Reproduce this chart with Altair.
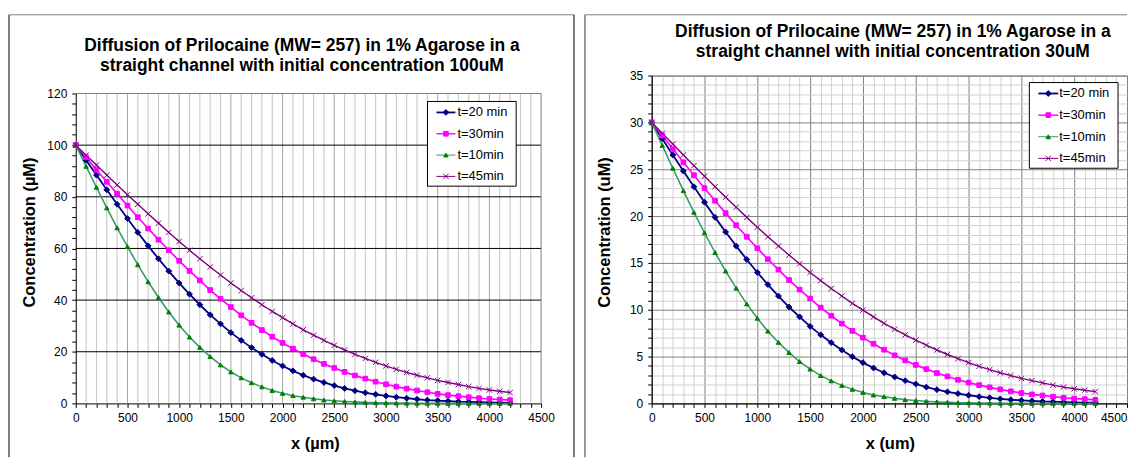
import altair as alt
import pandas as pd

FONT = "Liberation Sans"

# ---------------- data ----------------
x_um = list(range(0, 4201, 100))
series_names = ["t=20 min", "t=30min", "t=10min", "t=45min"]

c100_t20 = [100, 94.2, 88.4, 82.7, 77.1, 71.6, 66.2, 61.0, 56.0, 51.2, 46.6, 42.3, 38.2, 34.3, 30.8,
            27.4, 24.4, 21.6, 19.0, 16.6, 14.5, 12.6, 10.9, 9.4, 8.1, 6.9, 5.8, 4.9, 4.1, 3.5, 2.9,
            2.4, 2.0, 1.6, 1.3, 1.1, 0.9, 0.7, 0.6, 0.45, 0.35, 0.28, 0.22]
c100_t30 = [100, 95.3, 90.5, 85.8, 81.2, 76.6, 72.1, 67.7, 63.4, 59.3, 55.2, 51.3, 47.6, 43.9, 40.5,
            37.3, 34.1, 31.2, 28.4, 25.8, 23.4, 21.2, 19.1, 17.1, 15.3, 13.7, 12.2, 10.8, 9.6, 8.4,
            7.4, 6.5, 5.7, 5.0, 4.3, 3.7, 3.2, 2.8, 2.4, 2.0, 1.7, 1.5, 1.25]
c100_t10 = [100, 91.8, 83.7, 75.7, 68.0, 60.7, 53.7, 47.1, 41.0, 35.4, 30.3, 25.7, 21.7, 18.1, 14.9,
            12.2, 9.9, 8.0, 6.4, 5.0, 3.9, 3.0, 2.4, 1.8, 1.3, 1.0, 0.74, 0.54, 0.39, 0.28, 0.20,
            0.14, 0.10, 0.07, 0.05, 0.03, 0.02, 0.01, 0.01, 0.0, 0.0, 0.0, 0.0]
c100_t45 = [100, 96.1, 92.3, 88.4, 84.6, 80.8, 77.1, 73.4, 69.8, 66.2, 62.7, 59.3, 56.0, 52.8, 49.7,
            46.6, 43.7, 40.9, 38.2, 35.6, 33.2, 30.8, 28.5, 26.4, 24.4, 22.5, 20.7, 19.0, 17.4, 15.9,
            14.5, 13.2, 12.0, 10.9, 9.9, 8.9, 8.1, 7.3, 6.5, 5.8, 5.2, 4.7, 4.2]

c30_t20 = [30, 28.26, 26.52, 24.81, 23.13, 21.48, 19.86, 18.3, 16.8, 15.36, 13.98, 12.69, 11.46, 10.29,
           9.24, 8.22, 7.32, 6.48, 5.7, 4.98, 4.35, 3.78, 3.27, 2.82, 2.43, 2.07, 1.74, 1.47, 1.23,
           1.05, 0.87, 0.72, 0.6, 0.48, 0.39, 0.33, 0.27, 0.21, 0.18, 0.14, 0.11, 0.08, 0.07]
c30_t30 = [30, 28.59, 27.15, 25.74, 24.36, 22.98, 21.63, 20.31, 19.02, 17.79, 16.56, 15.39, 14.28, 13.17,
           12.15, 11.19, 10.23, 9.36, 8.52, 7.74, 7.02, 6.36, 5.73, 5.13, 4.59, 4.11, 3.66, 3.24, 2.88,
           2.52, 2.22, 1.95, 1.71, 1.5, 1.29, 1.11, 0.96, 0.84, 0.72, 0.6, 0.51, 0.45, 0.38]
c30_t10 = [30, 27.54, 25.11, 22.71, 20.4, 18.21, 16.11, 14.13, 12.3, 10.62, 9.09, 7.71, 6.51, 5.43,
           4.47, 3.66, 2.97, 2.4, 1.92, 1.5, 1.17, 0.9, 0.72, 0.54, 0.39, 0.3, 0.22, 0.16, 0.12, 0.08,
           0.06, 0.04, 0.03, 0.02, 0.015, 0.01, 0.006, 0.003, 0.003, 0.0, 0.0, 0.0, 0.0]
c30_t45 = [30, 28.83, 27.69, 26.52, 25.38, 24.24, 23.13, 22.02, 20.94, 19.86, 18.81, 17.79, 16.8, 15.84,
           14.91, 13.98, 13.11, 12.27, 11.46, 10.68, 9.96, 9.24, 8.55, 7.92, 7.32, 6.75, 6.21, 5.7,
           5.22, 4.77, 4.35, 3.96, 3.6, 3.27, 2.97, 2.67, 2.43, 2.19, 1.95, 1.74, 1.56, 1.41, 1.26]

title_left = ["Diffusion of Prilocaine (MW= 257) in 1% Agarose in a",
              "straight channel with initial concentration 100uM"]
title_right = ["Diffusion of Prilocaine (MW= 257) in 1% Agarose in a",
               "straight channel with initial concentration 30uM"]

x_ticks = list(range(0, 4501, 100))

# ---------------- styling ----------------
line_colors = ["#000080", "#FF00FF", "#339966", "#800080"]
marker_colors = ["#000080", "#FF00FF", "#008000", "#800080"]
marker_shapes = ["diamond", "square", "triangle-up", "M-1,-1L1,1M-1,1L1,-1"]
marker_sizes = [34, 22, 20, 30]
line_widths = [1.8, 1.4, 1.0, 1.0]
PANEL_H = 329
BORDER_TOP, BORDER_BOT = -61, 383


def long_frame(cols):
    rows = []
    for name, vals in zip(series_names, cols):
        for xv, cv in zip(x_um, vals):
            rows.append({"x": xv, "c": cv, "series": name})
    return pd.DataFrame(rows)


def one_row():
    return alt.Chart(pd.DataFrame({"k": [0]}))


def legend_layers(box, line_x, mark_x, text_x, row_y0, row_step):
    out = [one_row().mark_rect(fill="white", stroke="black", strokeWidth=1).encode(
        x=alt.value(box[0]), x2=alt.value(box[1]), y=alt.value(box[2]), y2=alt.value(box[3]))]
    for i, name in enumerate(series_names):
        yy = row_y0 + i * row_step
        out.append(one_row().mark_rule(color=line_colors[i], strokeWidth=line_widths[i]).encode(
            x=alt.value(line_x[0]), x2=alt.value(line_x[1]), y=alt.value(yy)))
        out.append(one_row().mark_point(
            filled=True, opacity=1, strokeWidth=1, fill=marker_colors[i], stroke=marker_colors[i],
            shape=marker_shapes[i], size=marker_sizes[i]
        ).encode(x=alt.value(mark_x), y=alt.value(yy)))
        out.append(one_row().mark_text(
            font=FONT, fontSize=13, color="black", align="left", baseline="middle"
        ).encode(x=alt.value(text_x), y=alt.value(yy), text=alt.value(name)))
    return out


def panel(cols, width, ymax, ystep, ymajor, yrange_top, ytitle, xtitle, ytitle_xy, xtitle_xy,
          titles, title_xy, legend, border_x, border_right, border_colors, axis_grid, xgrid, ygrid):
    df = long_frame(cols)

    x_axis = dict(
        values=x_ticks, tickCount=len(x_ticks), format="d",
        labelExpr="datum.value % 500 === 0 ? datum.label : ''",
        labelAlign={"condition": {"test": "datum.value === 4500",
                                  "value": "center" if border_right else "right"},
                    "value": "center"},
        title=xtitle, titleX=xtitle_xy[0], titleY=xtitle_xy[1],
        titleAlign="center", titleBaseline="middle", grid=axis_grid,
    )
    y_vals = list(range(0, ymax + 1, ystep))
    y_axis = dict(
        values=y_vals, tickCount=len(y_vals), format="d",
        labelExpr="datum.value % " + str(ymajor) + " === 0 ? datum.label : ''",
        title=ytitle, titleX=ytitle_xy[0], titleY=ytitle_xy[1], titleAngle=270,
        titleAlign="center", titleBaseline="middle", grid=axis_grid,
    )
    if axis_grid:
        x_axis["gridColor"] = {"condition": {"test": "datum.value % 500 === 0", "value": xgrid[0]},
                               "value": xgrid[1]}
        y_axis["gridColor"] = {"condition": {"test": "datum.value % " + str(ymajor) + " === 0",
                                             "value": ygrid[0]}, "value": ygrid[1]}

    x_enc = alt.X("x:Q", scale=alt.Scale(domain=[0, 4500], nice=False, zero=False),
                  axis=alt.Axis(**x_axis))
    y_enc = alt.Y("c:Q", scale=alt.Scale(domain=[0, ymax], nice=False, zero=True,
                                         range=[PANEL_H, yrange_top]),
                  axis=alt.Axis(**y_axis))

    layers = []
    # chart-area border (top, left, optionally right)
    top_c, side_c, side_w = border_colors
    layers.append(one_row().mark_rule(color=top_c, strokeWidth=1).encode(
        x=alt.value(border_x[0]), x2=alt.value(border_x[1]), y=alt.value(BORDER_TOP)))
    layers.append(one_row().mark_rule(color=side_c, strokeWidth=side_w).encode(
        x=alt.value(border_x[0]), y=alt.value(BORDER_TOP), y2=alt.value(BORDER_BOT)))
    if border_right:
        layers.append(one_row().mark_rule(color=side_c, strokeWidth=side_w).encode(
            x=alt.value(border_x[1]), y=alt.value(BORDER_TOP), y2=alt.value(BORDER_BOT)))

    if not axis_grid:
        vminor = pd.DataFrame({"x": [v for v in x_ticks if v % 500 != 0]})
        vmajor = pd.DataFrame({"x": [v for v in x_ticks if v % 500 == 0 and 0 < v < 4500]})
        hmajor = pd.DataFrame({"c": [v for v in y_vals if v % ymajor == 0 and 0 < v < ymax]})
        layers.append(alt.Chart(vminor).mark_rule(color=xgrid[1], strokeWidth=1).encode(
            x=x_enc, y=alt.datum(0), y2=alt.datum(ymax)))
        layers.append(alt.Chart(vmajor).mark_rule(color=xgrid[0], strokeWidth=1).encode(
            x=x_enc, y=alt.datum(0), y2=alt.datum(ymax)))
        layers.append(alt.Chart(hmajor).mark_rule(color=ygrid[0], strokeWidth=1).encode(
            y=y_enc, x=alt.datum(0), x2=alt.datum(4500)))
        # plot-area frame: top and right edges
        layers.append(alt.Chart(pd.DataFrame({"c": [ymax]})).mark_rule(color="#808080").encode(
            y=y_enc, x=alt.datum(0), x2=alt.datum(4500)))
        layers.append(alt.Chart(pd.DataFrame({"x": [4500]})).mark_rule(color="#808080").encode(
            x=x_enc, y=alt.datum(0), y2=alt.datum(ymax)))

    layers.append(alt.Chart(df).mark_line().encode(
        x=x_enc, y=y_enc,
        color=alt.Color("series:N", scale=alt.Scale(domain=series_names, range=line_colors),
                        legend=None),
        strokeWidth=alt.StrokeWidth("series:N",
                                    scale=alt.Scale(domain=series_names, range=line_widths),
                                    legend=None),
        order="x:Q",
    ))

    for name, col, shp, sz in zip(series_names, marker_colors, marker_shapes, marker_sizes):
        layers.append(
            alt.Chart(df).transform_filter(alt.datum.series == name).mark_point(
                filled=True, opacity=1, strokeWidth=1, fill=col, stroke=col, shape=shp, size=sz
            ).encode(x=x_enc, y=y_enc)
        )

    layers.extend(legend_layers(**legend))

    for txt, yy in zip(titles, title_xy[1:]):
        layers.append(
            one_row().mark_text(
                font=FONT, fontSize=17.5, fontWeight="bold", color="black",
                align="center", baseline="middle"
            ).encode(x=alt.value(title_xy[0]), y=alt.value(yy), text=alt.value(txt))
        )

    return alt.layer(*layers).resolve_scale(color="independent").properties(
        width=width, height=PANEL_H)


left = panel(
    [c100_t20, c100_t30, c100_t10, c100_t45],
    width=467, ymax=120, ystep=4, ymajor=20, yrange_top=18,
    ytitle="Concentration (µM)", xtitle="x (µm)",
    ytitle_xy=(-46, 157), xtitle_xy=(240, 40),
    titles=title_left, title_xy=(227, -30, -10),
    legend=dict(box=(353, 442, 26, 111), line_x=(362, 381), mark_x=371.5, text_x=383,
                row_y0=37, row_step=21.4),
    border_x=(-67, 500), border_right=True, border_colors=("#7f7f7f", "#000000", 1),
    axis_grid=False, xgrid=("#a6a6a6", "#c4c4c4"), ygrid=("#000000", "transparent"),
).properties(view=alt.ViewBackground(stroke="transparent"))

right = panel(
    [c30_t20, c30_t30, c30_t10, c30_t45],
    width=477, ymax=35, ystep=1, ymajor=5, yrange_top=0,
    ytitle="Concentration (uM)", xtitle="x (um)",
    ytitle_xy=(-47, 157), xtitle_xy=(239, 40),
    titles=title_right, title_xy=(242, -44, -24),
    legend=dict(box=(379, 468, 7, 93), line_x=(388, 408), mark_x=398, text_x=409,
                row_y0=18, row_step=21.7),
    border_x=(-67, 477), border_right=False, border_colors=("#7f7f7f", "#808080", 1.6),
    axis_grid=True, xgrid=("#808080", "#d0d0d0"), ygrid=("#808080", "#d0d0d0"),
).properties(view=alt.ViewBackground(stroke="#808080", strokeWidth=1))

chart = alt.hconcat(left, right, spacing=8).resolve_scale(
    color="independent", strokeWidth="independent",
).properties(
    padding={"left": 0, "top": 4, "right": 0, "bottom": 0},
    background="white",
).configure_axis(
    labelFont=FONT, labelFontSize=12, labelColor="black", labelPadding=5,
    labelOverlap=False, labelFlush=False,
    tickSize=4, tickColor="black", tickWidth=1,
    domainColor="black", domainWidth=1, gridWidth=1,
    titleFont=FONT, titleFontSize=16.5, titleFontWeight="bold", titleColor="black",
)

chart.save("out.html", embed_options={"renderer": "svg", "actions": False})
